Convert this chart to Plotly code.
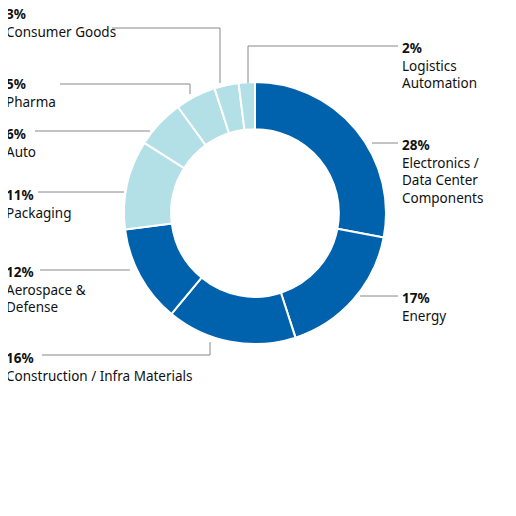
import plotly.graph_objects as go

labels = ["Electronics / Data Center Components", "Energy", "Construction / Infra Materials",
          "Aerospace & Defense", "Packaging", "Auto", "Pharma", "Consumer Goods", "Logistics Automation"]
values = [28, 17, 16, 12, 11, 6, 5, 3, 2]
display = ["Electronics /<br>Data Center<br>Components", "Energy", "Construction / Infra Materials",
           "Aerospace &<br>Defense", "Packaging", "Auto", "Pharma", "Consumer Goods", "Logistics<br>Automation"]
dark, light = "#0062AD", "#B2E0E6"
colors = [dark]*4 + [light]*5

W = H = 516
OFF = 8  # page body margin
def px(x): return (x - OFF) / W
def py(y): return 1 - (y - OFF) / H

fig = go.Figure(go.Pie(labels=labels, values=values, hole=0.64, sort=False, direction="clockwise",
                       rotation=0, textinfo="none", hoverinfo="label+percent",
                       marker=dict(colors=colors, line=dict(color="white", width=2)),
                       domain=dict(x=[px(124), px(386)], y=[py(344), py(82)])))

label_pos = [(400, 134), (400, 287), (4, 347), (4, 261), (4, 184), (4, 123), (4, 73), (4, 3), (400, 37)]
for (x, y), name, v in zip(label_pos, display, values):
    fig.add_annotation(x=px(x), y=py(y), xref="paper", yref="paper", xanchor="left", yanchor="top",
                       align="left", showarrow=False, text=f"<b>{v}%</b><br>{name}",
                       font=dict(family="Noto Sans", size=13.5, color="#111"))

leaders = [
    [(372, 143), (398, 143)],
    [(360, 296), (398, 296)],
    [(42, 355), (210, 355), (210, 342)],
    [(40, 270), (130, 270)],
    [(38, 192), (124, 192)],
    [(35, 131), (150, 131)],
    [(60, 84), (190, 84), (190, 94)],
    [(112, 28), (220, 28), (220, 83)],
    [(248, 83), (248, 46), (398, 46)],
]
for pts in leaders:
    path = "M " + " L ".join(f"{px(x)},{py(y)}" for x, y in pts)
    fig.add_shape(type="path", path=path, xref="paper", yref="paper",
                  line=dict(color="#888", width=1))

fig.update_layout(width=W, height=H, margin=dict(l=0, r=0, t=0, b=0), showlegend=False,
                  paper_bgcolor="white", plot_bgcolor="white")
fig.write_html("out.html")
